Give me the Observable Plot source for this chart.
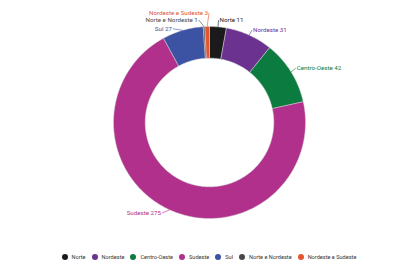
<!DOCTYPE html>
<html>
<head>
<meta charset="utf-8">
<script src="https://cdn.jsdelivr.net/npm/d3@7"></script>
<script src="https://cdn.jsdelivr.net/npm/@observablehq/plot@0.6"></script>
<style>
  html, body { margin: 0; padding: 0; background: #fff; }
  #chart { position: relative; width: 418px; height: 273px; font-family: Roboto, sans-serif; }
  #legend { position: absolute; left: 0; top: 252px; width: 418px; height: 10px; display: flex; justify-content: center; align-items: center; gap: 6px; font-size: 5.6px; color: #333; }
  #legend .item { display: flex; align-items: center; gap: 4px; }
  #legend .dot { width: 6px; height: 6px; border-radius: 50%; display: inline-block; }
</style>
</head>
<body>
<div id="chart"><div id="legend"></div></div>
<script>
// ---- data ----
const categories = ["Norte", "Nordeste", "Centro-Oeste", "Sudeste", "Sul", "Norte e Nordeste", "Nordeste e Sudeste"];
const values = [11, 31, 42, 275, 27, 1, 3];
const colors = ["#1b1b1b", "#6b3290", "#0c7b3f", "#b0308b", "#3b53a2", "#474747", "#e3562f"];

// ---- layout (not data) ----
const innerRatio = 0.67;
const labelRadius = 1.07;
// per-label pixel nudges [dx, dy] to avoid overlaps of the tiny slices
const labelNudge = [[0, 0], [0, 1], [-1, 0], [-5, -3], [-8, 5], [-5, 0], [2, -7]];

const pie = d3.pie().sort(null).value(d => d.value);
const slices = pie(categories.map((name, i) => ({name, value: values[i], i})));
const items = slices.map(s => {
  const mid = (s.startAngle + s.endAngle) / 2;
  return {
    name: s.data.name, value: s.data.value, i: s.data.i,
    startAngle: s.startAngle, endAngle: s.endAngle, mid,
    side: Math.sin(mid) >= 0 ? "right" : "left",
    ex: Math.sin(mid), ey: Math.cos(mid),
    lx: labelRadius * Math.sin(mid), ly: labelRadius * Math.cos(mid)
  };
});

// polygon outline of each ring segment (outer arc forward, inner arc back)
const ringPoints = items.flatMap(d => {
  const n = Math.max(2, Math.ceil((d.endAngle - d.startAngle) / (Math.PI / 180)) + 1);
  const pts = [];
  for (let k = 0; k < n; k++) {
    const a = d.startAngle + (d.endAngle - d.startAngle) * k / (n - 1);
    pts.push({name: d.name, x: Math.sin(a), y: Math.cos(a)});
  }
  for (let k = n - 1; k >= 0; k--) {
    const a = d.startAngle + (d.endAngle - d.startAngle) * k / (n - 1);
    pts.push({name: d.name, x: innerRatio * Math.sin(a), y: innerRatio * Math.cos(a)});
  }
  pts.push({...pts[0]});
  return pts;
});

function labelText(side) {
  const data = items.filter(d => d.side === side);
  return Plot.text(data, {
    x: "lx", y: "ly",
    text: d => `${d.name} ${d.value}`,
    fill: "name",
    textAnchor: side === "right" ? "start" : "end",
    dx: side === "right" ? 1 : -1,
    fontSize: 6.2,
    fontFamily: "Roboto, sans-serif",
    render(index, scales, vals, dims, ctx, next) {
      const node = next(index, scales, vals, dims, ctx);
      d3.select(node).selectAll("text").each(function(_, k) {
        const d = data[index[k]];
        const [nx, ny] = labelNudge[d.i];
        const t = d3.select(this);
        const tr = t.attr("transform") || "";
        t.attr("transform", tr + ` translate(${nx},${ny})`);
      });
      return node;
    }
  });
}

const leaders = Plot.link(items, {
  x1: "ex", y1: "ey", x2: "lx", y2: "ly",
  stroke: "name", strokeWidth: 0.6,
  render(index, scales, vals, dims, ctx, next) {
    const node = next(index, scales, vals, dims, ctx);
    d3.select(node).selectAll("path").each(function(_, k) {
      const d = items[index[k]];
      const [nx, ny] = labelNudge[d.i];
      const x1 = scales.x(d.ex), y1 = scales.y(d.ey);
      const x2 = scales.x(d.lx) + nx, y2 = scales.y(d.ly) + ny;
      d3.select(this).attr("d", `M${x1},${y1}L${x2},${y2}`);
    });
    return node;
  }
});

const cx = 209, cy = 122, R = 96;
const plot = Plot.plot({
  width: 418, height: 240,
  margin: 0,
  x: {domain: [-1, 1], range: [cx - R, cx + R], axis: null},
  y: {domain: [-1, 1], range: [cy + R, cy - R], axis: null},
  color: {domain: categories, range: colors},
  style: {background: "transparent", overflow: "visible", fontFamily: "Roboto, sans-serif"},
  marks: [
    Plot.line(ringPoints, {x: "x", y: "y", z: "name", fill: "name", stroke: "#d4d4d4", strokeWidth: 0.5, curve: "linear-closed"}),
    leaders, labelText("right"), labelText("left")
  ]
});
document.getElementById("chart").prepend(plot);

// legend
const legend = d3.select("#legend");
categories.forEach((c, i) => {
  const it = legend.append("div").attr("class", "item");
  it.append("span").attr("class", "dot").style("background", colors[i]);
  it.append("span").text(c);
});
</script>
</body>
</html>
